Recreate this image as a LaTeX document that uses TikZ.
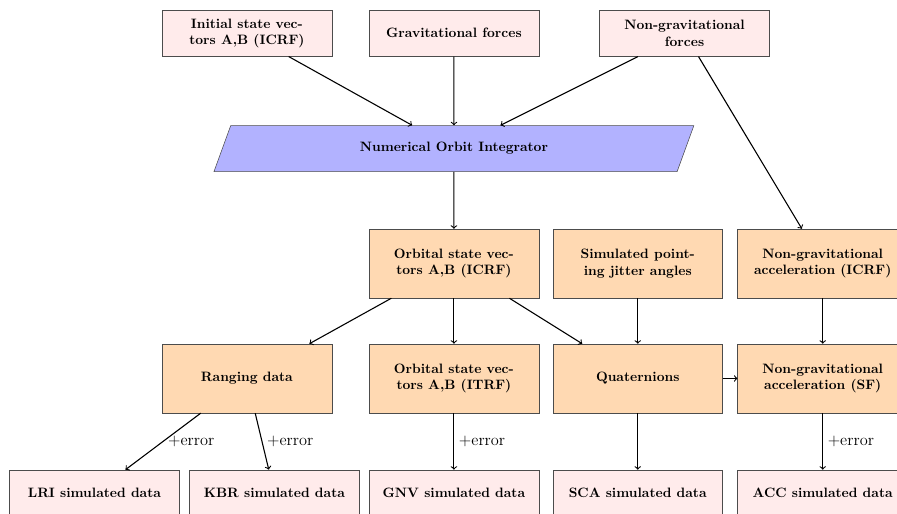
\documentclass[tikz,border=0pt]{standalone}
\usepackage{tikz}
\usetikzlibrary{calc}
\usetikzlibrary{shapes}

\begin{document}
\begin{tikzpicture}
    \tikzstyle{pb}=[shape=rectangle,draw=black!70,fill=red!8,minimum width=4.39cm,minimum height=1.19cm,align=center,font=\bfseries]
    \tikzstyle{ob}=[shape=rectangle,draw=black!70,fill=orange!30,minimum width=4.39cm,minimum height=1.78cm,align=center,font=\bfseries]
    \tikzstyle{ni}=[shape=trapezium,trapezium left angle=70,trapezium right angle=110,trapezium stretches body,draw=black!70,fill=blue!30,minimum width=12.4cm,inner ysep=12.4pt,font=\bfseries]
    \tikzstyle{err}=[midway,right,font=\large]

    \useasboundingbox (-11.73,-9.42) rectangle (11.45,3.84);

    % integrator
    \coordinate (integ_c) at (0,0);
    \node[ni] (integ) at (integ_c) {Numerical Orbit Integrator};

    % inputs
    \coordinate (init_c) at ($(integ_c) + (-5.35,2.98)$);
    \node[pb] (init) at (init_c) {Initial state vec-\\tors A,B (ICRF)};

    \coordinate (grav_c) at ($(integ_c) + (0,2.98)$);
    \node[pb] (grav) at (grav_c) {Gravitational forces};

    \coordinate (ngf_c) at ($(integ_c) + (5.96,2.98)$);
    \node[pb] (ngf) at (ngf_c) {Non-gravitational\\forces};

    \draw[->,thick] (init) -- (integ);
    \draw[->,thick] (grav) -- (integ);
    \draw[->,thick] (ngf) -- (integ);

    % second row
    \coordinate (orb_icrf_c) at ($(integ_c) - (0,2.97)$);
    \node[ob] (orb_icrf) at (orb_icrf_c) {Orbital state vec-\\tors A,B (ICRF)};

    \coordinate (jitter_c) at ($(orb_icrf_c) + (4.75,0)$);
    \node[ob] (jitter) at (jitter_c) {Simulated point-\\ing jitter angles};

    \coordinate (ng_icrf_c) at ($(orb_icrf_c) + (9.53,0)$);
    \node[ob] (ng_icrf) at (ng_icrf_c) {Non-gravitational\\acceleration (ICRF)};

    \draw[->,thick] (integ) -- (orb_icrf);
    \draw[->,thick] (ngf) -- (ng_icrf);

    % third row
    \coordinate (ranging_c) at ($(orb_icrf_c) + (-5.35,-2.97)$);
    \node[ob] (ranging) at (ranging_c) {Ranging data};

    \coordinate (orb_itrf_c) at ($(orb_icrf_c) - (0,2.97)$);
    \node[ob] (orb_itrf) at (orb_itrf_c) {Orbital state vec-\\tors A,B (ITRF)};

    \coordinate (quat_c) at ($(jitter_c) - (0,2.97)$);
    \node[ob] (quat) at (quat_c) {Quaternions};

    \coordinate (ng_sf_c) at ($(ng_icrf_c) - (0,2.97)$);
    \node[ob] (ng_sf) at (ng_sf_c) {Non-gravitational\\acceleration (SF)};

    \draw[->,thick] (orb_icrf) -- (ranging);
    \draw[->,thick] (orb_icrf) -- (orb_itrf);
    \draw[->,thick] (orb_icrf) -- (quat);
    \draw[->,thick] (jitter) -- (quat);
    \draw[->,thick] (ng_icrf) -- (ng_sf);
    \draw[->,thick] (quat) -- (ng_sf);

    % simulated data
    \coordinate (lri_c) at ($(ranging_c) + (-3.94,-2.96)$);
    \node[pb] (lri) at (lri_c) {LRI simulated data};

    \coordinate (kbr_c) at ($(ranging_c) + (0.71,-2.96)$);
    \node[pb] (kbr) at (kbr_c) {KBR simulated data};

    \coordinate (gnv_c) at ($(orb_itrf_c) - (0,2.96)$);
    \node[pb] (gnv) at (gnv_c) {GNV simulated data};

    \coordinate (sca_c) at ($(quat_c) - (0,2.96)$);
    \node[pb] (sca) at (sca_c) {SCA simulated data};

    \coordinate (acc_c) at ($(ng_sf_c) - (0,2.96)$);
    \node[pb] (acc) at (acc_c) {ACC simulated data};

    \draw[->,thick] (ranging) -- (lri) node[err] {+error};
    \draw[->,thick] (ranging) -- (kbr) node[err] {+error};
    \draw[->,thick] (orb_itrf) -- (gnv) node[err] {+error};
    \draw[->,thick] (quat) -- (sca);
    \draw[->,thick] (ng_sf) -- (acc) node[err] {+error};

\end{tikzpicture}
\end{document}
